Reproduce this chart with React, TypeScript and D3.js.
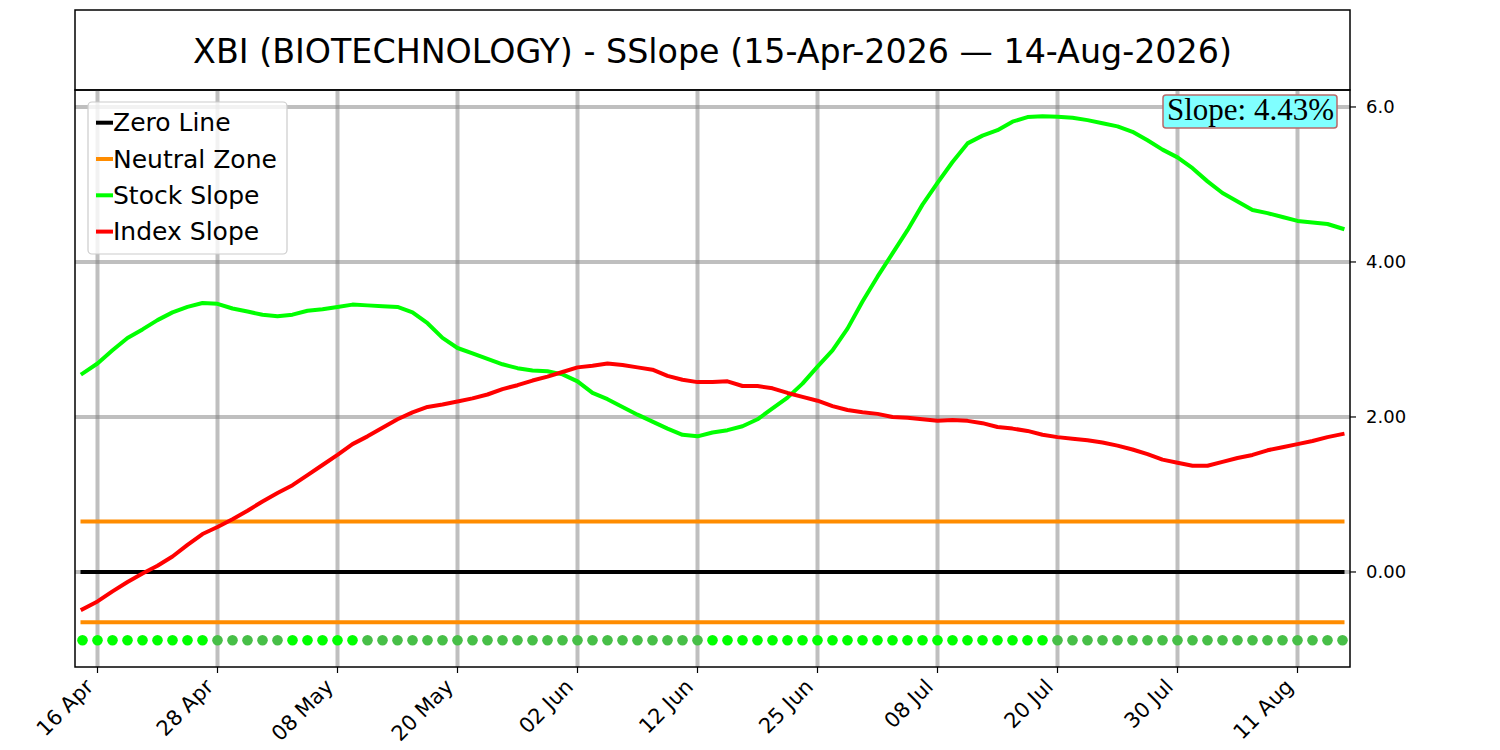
import React from "react";
import * as d3 from "d3";

// trading days, 15 Apr 2026 -> 14 Aug 2026
const dates: string[] = [
  "2026-04-15", "2026-04-16", "2026-04-17", "2026-04-20", "2026-04-21", "2026-04-22", "2026-04-23", "2026-04-24",
  "2026-04-27", "2026-04-28", "2026-04-29", "2026-04-30", "2026-05-01", "2026-05-04", "2026-05-05", "2026-05-06",
  "2026-05-07", "2026-05-08", "2026-05-11", "2026-05-12", "2026-05-13", "2026-05-14", "2026-05-15", "2026-05-18",
  "2026-05-19", "2026-05-20", "2026-05-21", "2026-05-22", "2026-05-26", "2026-05-27", "2026-05-28", "2026-05-29",
  "2026-06-01", "2026-06-02", "2026-06-03", "2026-06-04", "2026-06-05", "2026-06-08", "2026-06-09", "2026-06-10",
  "2026-06-11", "2026-06-12", "2026-06-15", "2026-06-16", "2026-06-17", "2026-06-18", "2026-06-22", "2026-06-23",
  "2026-06-24", "2026-06-25", "2026-06-26", "2026-06-29", "2026-06-30", "2026-07-01", "2026-07-02", "2026-07-06",
  "2026-07-07", "2026-07-08", "2026-07-09", "2026-07-10", "2026-07-13", "2026-07-14", "2026-07-15", "2026-07-16",
  "2026-07-17", "2026-07-20", "2026-07-21", "2026-07-22", "2026-07-23", "2026-07-24", "2026-07-27", "2026-07-28",
  "2026-07-29", "2026-07-30", "2026-07-31", "2026-08-03", "2026-08-04", "2026-08-05", "2026-08-06", "2026-08-07",
  "2026-08-10", "2026-08-11", "2026-08-12", "2026-08-13", "2026-08-14",
];

const stockSlope: number[] = [
  2.56, 2.69, 2.86, 3.02, 3.13, 3.25, 3.35, 3.42, 3.47, 3.46, 3.40, 3.36, 3.32, 3.30, 3.32, 3.37,
  3.39, 3.42, 3.45, 3.44, 3.43, 3.42, 3.35, 3.21, 3.02, 2.89, 2.82, 2.75, 2.68, 2.63, 2.60, 2.59,
  2.55, 2.46, 2.31, 2.23, 2.13, 2.03, 1.94, 1.85, 1.77, 1.75, 1.80, 1.83, 1.88, 1.97, 2.11, 2.25,
  2.43, 2.65, 2.86, 3.14, 3.49, 3.81, 4.11, 4.41, 4.74, 5.02, 5.29, 5.53, 5.63, 5.70, 5.81, 5.87,
  5.88, 5.875, 5.86, 5.83, 5.79, 5.75, 5.68, 5.57, 5.45, 5.35, 5.21, 5.04, 4.89, 4.78, 4.67, 4.63,
  4.58, 4.53, 4.51, 4.49, 4.43,
];

const indexSlope: number[] = [
  -0.48, -0.38, -0.25, -0.13, -0.02, 0.08, 0.20, 0.35, 0.49, 0.58, 0.68, 0.79, 0.91, 1.02, 1.12, 1.25,
  1.38, 1.51, 1.65, 1.75, 1.86, 1.97, 2.06, 2.13, 2.16, 2.20, 2.24, 2.29, 2.36, 2.41, 2.47, 2.52,
  2.58, 2.64, 2.66, 2.69, 2.67, 2.64, 2.61, 2.53, 2.48, 2.45, 2.45, 2.46, 2.40, 2.40, 2.37, 2.31,
  2.26, 2.21, 2.14, 2.09, 2.06, 2.04, 2.00, 1.99, 1.97, 1.95, 1.96, 1.95, 1.92, 1.87, 1.85, 1.82,
  1.77, 1.74, 1.72, 1.70, 1.67, 1.63, 1.58, 1.52, 1.45, 1.41, 1.37, 1.37, 1.42, 1.47, 1.51, 1.57,
  1.61, 1.65, 1.69, 1.74, 1.78,
];

const neutralBand = 0.65;
const dotLevel = -0.88;
const yTicks = [0, 2, 4, 6];
const yTickLabels = ["0.00", "2.00", "4.00", "6.0"];
const tickStep = 8;
const titleText = "XBI (BIOTECHNOLOGY) - SSlope (15-Apr-2026 \u2014 14-Aug-2026)";
const legendItems = [
  { label: "Zero Line", color: "#000000" },
  { label: "Neutral Zone", color: "#ff8c00" },
  { label: "Stock Slope", color: "#00ff00" },
  { label: "Index Slope", color: "#ff0000" },
];

const W = 1500;
const H = 750;
const left = 75;
const right = 1350;
const top = 90;
const bottom = 667;
const sans = "'DejaVu Sans', sans-serif";

export default function App() {
  const parse = d3.timeParse("%Y-%m-%d");
  const fmt = d3.timeFormat("%d %b");
  const n = dates.length;

  const x = d3.scaleLinear().domain([-0.5, n - 0.5]).range([left, right]);
  const y = d3.scaleLinear().domain([-1.226, 6.219]).range([bottom, top]);

  const line = d3
    .line<number>()
    .x((_, i) => x(i))
    .y((d) => y(d));

  const xTicks = d3.range(1, n, tickStep);
  const rising = stockSlope.map((v, i) => i === 0 || v >= stockSlope[i - 1]);

  const lastSlope = stockSlope[n - 1];

  return (
    <svg width={W} height={H} style={{ position: "absolute", left: 0, top: 0, background: "#fff" }} fontFamily={sans}>
      <rect x={0} y={0} width={W} height={H} fill="#fff" />

      {/* title box */}
      <rect x={left} y={10} width={right - left} height={top - 10} fill="#fff" stroke="#000" strokeWidth={1.5} />
      <text x={(left + right) / 2} y={51} textAnchor="middle" dominantBaseline="central" fontSize={33.3}>
        {titleText}
      </text>

      {/* grid */}
      <g stroke="#808080" strokeOpacity={0.5} strokeWidth={4}>
        {xTicks.map((t) => (
          <line key={"gx" + t} x1={x(t)} x2={x(t)} y1={top} y2={bottom} />
        ))}
        {yTicks.map((t) => (
          <line key={"gy" + t} x1={left} x2={right} y1={y(t)} y2={y(t)} />
        ))}
      </g>

      {/* neutral zone and zero line */}
      <g strokeWidth={4} strokeLinecap="square">
        <line x1={x(0)} x2={x(n - 1)} y1={y(neutralBand)} y2={y(neutralBand)} stroke="#ff8c00" />
        <line x1={x(0)} x2={x(n - 1)} y1={y(-neutralBand)} y2={y(-neutralBand)} stroke="#ff8c00" />
        <line x1={x(0)} x2={x(n - 1)} y1={y(0)} y2={y(0)} stroke="#000" />
      </g>

      {/* momentum dots */}
      {rising.map((r, i) => (
        <circle key={"d" + i} cx={x(i)} cy={y(dotLevel)} r={5.3} fill={r ? "#00ff00" : "#47bf47"} />
      ))}

      {/* series */}
      <path d={line(stockSlope) || ""} fill="none" stroke="#00ff00" strokeWidth={4} strokeLinejoin="round" strokeLinecap="square" />
      <path d={line(indexSlope) || ""} fill="none" stroke="#ff0000" strokeWidth={4} strokeLinejoin="round" strokeLinecap="square" />

      {/* frame */}
      <rect x={left} y={top} width={right - left} height={bottom - top} fill="none" stroke="#000" strokeWidth={1.5} />

      {/* x axis */}
      {xTicks.map((t) => {
        const d = parse(dates[t]);
        return (
          <g key={"xt" + t} transform={`translate(${x(t)},${bottom})`}>
            <line y1={0} y2={6} stroke="#000" strokeWidth={1.2} />
            <text transform="translate(-3,21) rotate(-45)" textAnchor="end" fontSize={21}>
              {d ? fmt(d) : dates[t]}
            </text>
          </g>
        );
      })}

      {/* y axis on the right */}
      {yTicks.map((t, i) => (
        <g key={"yt" + t} transform={`translate(${right},${y(t)})`}>
          <line x1={0} x2={6} stroke="#000" strokeWidth={1.2} />
          <text x={16} dominantBaseline="central" fontSize={18}>
            {yTickLabels[i]}
          </text>
        </g>
      ))}

      {/* legend */}
      <g>
        <rect x={88} y={102} width={199} height={152} rx={4} fill="#fff" fillOpacity={0.8} stroke="#cccccc" strokeWidth={1.2} />
        {legendItems.map((it, i) => (
          <g key={it.label} transform={`translate(96,${122.7 + i * 36.3})`}>
            <line x1={0} x2={17} y1={0} y2={0} stroke={it.color} strokeWidth={4} />
            <text x={17} y={8.5} fontSize={25}>
              {it.label}
            </text>
          </g>
        ))}
      </g>

      {/* latest slope badge */}
      <g>
        <rect x={1163} y={95} width={174} height={33} rx={3} fill="#80ffff" stroke="#b86a6a" strokeWidth={1.5} />
        <text x={1334} y={120} textAnchor="end" fontFamily="'Liberation Serif', serif" fontSize={31}>
          {`Slope: ${lastSlope.toFixed(2)}%`}
        </text>
      </g>
    </svg>
  );
}
